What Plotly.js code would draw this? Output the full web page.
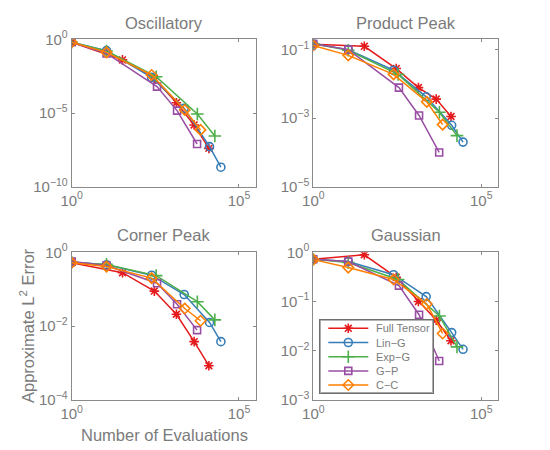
<!DOCTYPE html>
<html>
<head>
<meta charset="utf-8">
<script src="https://cdn.plot.ly/plotly-3.0.1.min.js"></script>
<style>html,body{margin:0;padding:0;background:#fff;}#chart{width:550px;height:450px;}</style>
</head>
<body>
<div id="chart"></div>
<script>
// Method names and evaluation counts (x values)
var methods = ["Full Tensor", "Lin\u2212G", "Exp\u2212G", "G\u2212P", "C\u2212C"];
var nFT  = [1, 33, 295, 1350, 4570, 12600];
var nLin = [1, 11, 245, 2300, 13200, 28800];
var nExp = [1, 11, 335, 5700, 19000];
var nGP  = [1, 11, 355, 1410, 5600];
var nCC  = [1, 11, 245, 2400, 7100];

// Panel titles
var panelTitles = ["Oscillatory", "Product Peak", "Corner Peak", "Gaussian"];

// Oscillatory errors
var oscFT  = [0.63, 0.040, 2.2e-3, 5.0e-5, 1.55e-6, 4.0e-8];
var oscLin = [0.63, 0.17, 2.6e-3, 2.1e-5, 5.2e-8, 2.1e-9];
var oscExp = [0.63, 0.16, 2.9e-3, 8.5e-6, 2.75e-7];
var oscGP  = [0.63, 0.11, 6.2e-4, 1.45e-5, 7.9e-8];
var oscCC  = [0.63, 0.13, 3.8e-3, 1.6e-5, 7.1e-7];

// Product Peak errors
var ppFT  = [0.143, 0.125, 0.028, 7.8e-3, 3.6e-3, 1.12e-3];
var ppLin = [0.148, 0.10, 0.025, 4.2e-3, 6.2e-4, 2.0e-4];
var ppExp = [0.148, 0.096, 0.019, 1.48e-3, 3.1e-4];
var ppGP  = [0.148, 0.10, 7.8e-3, 1.2e-3, 1.0e-4];
var ppCC  = [0.132, 0.068, 0.019, 3.0e-3, 6.5e-4];

// Corner Peak errors
var cpFT  = [0.52, 0.28, 0.089, 0.021, 3.8e-3, 8.5e-4];
var cpLin = [0.54, 0.46, 0.24, 0.072, 0.0126, 3.8e-3];
var cpExp = [0.54, 0.47, 0.234, 0.046, 0.0148];
var cpGP  = [0.56, 0.44, 0.145, 0.039, 7.8e-3];
var cpCC  = [0.52, 0.41, 0.20, 0.030, 0.014];

// Gaussian errors
var gFT  = [0.72, 0.89, 0.31, 0.10, 0.042, 0.016];
var gLin = [0.72, 0.65, 0.35, 0.126, 0.0234, 0.0107];
var gExp = [0.72, 0.62, 0.28, 0.051, 0.012];
var gGP  = [0.72, 0.65, 0.21, 0.054, 6.2e-3];
var gCC  = [0.71, 0.49, 0.28, 0.089, 0.0224];

// Tick values per panel
var xTicks = [1, 1e5];
var xTickText = ["10<sup>0</sup>", "10<sup>5</sup>"];
var oscTicks = [1e-10, 1e-5, 1];
var oscTickText = ["10<sup>\u221210</sup>", "10<sup>\u22125</sup>", "10<sup>0</sup>"];
var ppTicks = [1e-5, 1e-3, 1e-1];
var ppTickText = ["10<sup>\u22125</sup>", "10<sup>\u22123</sup>", "10<sup>\u22121</sup>"];
var cpTicks = [1e-4, 1e-2, 1];
var cpTickText = ["10<sup>\u22124</sup>", "10<sup>\u22122</sup>", "10<sup>0</sup>"];
var gTicks = [1e-3, 1e-2, 1e-1, 1];
var gTickText = ["10<sup>\u22123</sup>", "10<sup>\u22122</sup>", "10<sup>\u22121</sup>", "10<sup>0</sup>"];

var colors = ["#e41a1c", "#377eb8", "#4daf4a", "#984ea3", "#ff7f00"];
var symbols = ["asterisk-open", "circle-open", "cross-thin-open", "square-open", "diamond-open"];
var sizes = [8, 8, 9, 7, 8];
var xs = [nFT, nLin, nExp, nGP, nCC];
var panels = [
  [oscFT, oscLin, oscExp, oscGP, oscCC],
  [ppFT, ppLin, ppExp, ppGP, ppCC],
  [cpFT, cpLin, cpExp, cpGP, cpCC],
  [gFT, gLin, gExp, gGP, gCC]
];

function markerFor(m) {
  return {symbol: symbols[m], size: sizes[m], color: colors[m],
          line: {color: colors[m], width: 1.6}};
}

var data = [];
panels.forEach(function (series, p) {
  var ax = p === 0 ? "" : String(p + 1);
  series.forEach(function (ys, m) {
    data.push({
      type: "scatter",
      mode: "lines+markers",
      x: xs[m],
      y: ys,
      name: methods[m],
      xaxis: "x" + ax,
      yaxis: "y" + ax,
      showlegend: false,
      line: {color: colors[m], width: 1.5},
      marker: markerFor(m)
    });
  });
});

// Legend drawn in its own small subplot (pixel-like coordinates)
var legBox = [320.3, 432.7, 320, 392.7]; // left, right, top, bottom (px)
var legRows = [328.3, 342.5, 356.7, 370.9, 385.0];
var legLineX = [328.3, 368.3];
var legMarkX = 348.3;
var legTextX = 374;
methods.forEach(function (name, m) {
  data.push({type: "scatter", mode: "lines", x: legLineX, y: [legRows[m], legRows[m]],
             xaxis: "x5", yaxis: "y5", showlegend: false, hoverinfo: "skip",
             line: {color: colors[m], width: 1.5}});
  data.push({type: "scatter", mode: "markers", x: [legMarkX], y: [legRows[m]],
             xaxis: "x5", yaxis: "y5", showlegend: false, hoverinfo: "skip",
             marker: markerFor(m)});
});

var textCol = "#7b7b7b";
var lineCol = "#8a8a8a";
var fontFam = "Liberation Sans, Arial, Helvetica, sans-serif";

function xAx(domain, anchor) {
  return {
    type: "log", domain: domain, anchor: anchor, range: [0, 5.5],
    tickvals: xTicks, ticktext: xTickText,
    showline: true, linecolor: lineCol, linewidth: 1, mirror: "allticks",
    ticks: "inside", ticklen: 3, tickcolor: lineCol,
    showgrid: false, zeroline: false,
    tickfont: {size: 15, color: textCol, family: fontFam}
  };
}
function yAx(domain, anchor, range, tv, tt) {
  return {
    type: "log", domain: domain, anchor: anchor, range: range,
    tickvals: tv, ticktext: tt,
    showline: true, linecolor: lineCol, linewidth: 1, mirror: "allticks",
    ticks: "inside", ticklen: 3, tickcolor: lineCol,
    showgrid: false, zeroline: false,
    tickfont: {size: 15, color: textCol, family: fontFam}
  };
}

var dxL = [71.7 / 550, 255.7 / 550];
var dxR = [313.3 / 550, 498 / 550];
var dyT = [1 - 186.7 / 450, 1 - 39.3 / 450];
var dyB = [1 - 400 / 450, 1 - 252.3 / 450];

var titleFont = {size: 16.5, color: textCol, family: fontFam};
function titleAnn(text, xpx, ypx) {
  return {text: text, x: xpx / 550, y: 1 - ypx / 450, xref: "paper", yref: "paper",
          xanchor: "center", yanchor: "middle", showarrow: false, font: titleFont};
}

var annotations = [
  titleAnn(panelTitles[0], 163.7, 23),
  titleAnn(panelTitles[1], 405.7, 23),
  titleAnn(panelTitles[2], 163.7, 235),
  titleAnn(panelTitles[3], 405.7, 235),
  {text: "Number of Evaluations", x: 164 / 550, y: 1 - 435 / 450, xref: "paper", yref: "paper",
   xanchor: "center", yanchor: "middle", showarrow: false, font: titleFont},
  {text: "Approximate L<sup>2</sup> Error", x: 27 / 550, y: 1 - 326 / 450, xref: "paper", yref: "paper",
   xanchor: "center", yanchor: "middle", showarrow: false, textangle: -90, font: titleFont}
];
methods.forEach(function (name, m) {
  annotations.push({text: name, x: legTextX, y: legRows[m], xref: "x5", yref: "y5",
                    xanchor: "left", yanchor: "middle", showarrow: false,
                    font: {size: 11, color: textCol, family: fontFam}});
});

var layout = {
  width: 550, height: 450,
  margin: {l: 0, r: 0, t: 0, b: 0},
  paper_bgcolor: "#ffffff", plot_bgcolor: "#ffffff",
  font: {family: fontFam, color: textCol},
  showlegend: false,
  xaxis: xAx(dxL, "y"),
  yaxis: yAx(dyT, "x", [-10, 0], oscTicks, oscTickText),
  xaxis2: xAx(dxR, "y2"),
  yaxis2: yAx(dyT, "x2", [-5, Math.log10(0.2)], ppTicks, ppTickText),
  xaxis3: xAx(dxL, "y3"),
  yaxis3: yAx(dyB, "x3", [-4, 0], cpTicks, cpTickText),
  xaxis4: xAx(dxR, "y4"),
  yaxis4: yAx(dyB, "x4", [-3, 0], gTicks, gTickText),
  xaxis5: {domain: [legBox[0] / 550, legBox[1] / 550], anchor: "y5", range: [legBox[0], legBox[1]],
           showline: true, mirror: true, linecolor: "#6e6e6e", linewidth: 1,
           showticklabels: false, ticks: "", showgrid: false, zeroline: false},
  yaxis5: {domain: [1 - legBox[3] / 450, 1 - legBox[2] / 450], anchor: "x5", range: [legBox[3], legBox[2]],
           showline: true, mirror: true, linecolor: "#6e6e6e", linewidth: 1,
           showticklabels: false, ticks: "", showgrid: false, zeroline: false},
  shapes: [
    {type: "rect", xref: "x5", yref: "y5", layer: "below",
     x0: legBox[0], x1: legBox[1], y0: legBox[3], y1: legBox[2],
     fillcolor: "#ffffff", line: {color: "#6e6e6e", width: 1}}
  ],
  annotations: annotations
};

Plotly.newPlot("chart", data, layout, {displayModeBar: false, staticPlot: true});
</script>
</body>
</html>
